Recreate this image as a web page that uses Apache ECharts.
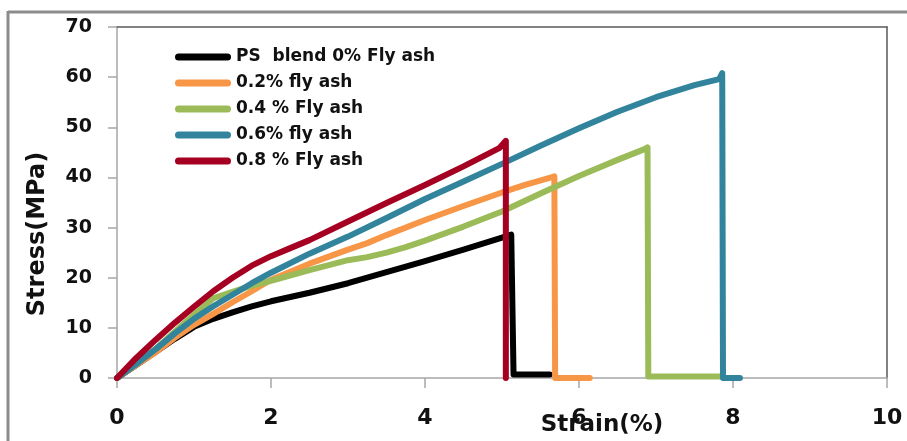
<!DOCTYPE html>
<html>
<head>
<meta charset="utf-8">
<style>
  html, body { margin: 0; padding: 0; background: #fff; }
  #chart { width: 907px; height: 441px; }
</style>
<script src="https://cdn.jsdelivr.net/npm/echarts@6/dist/echarts.min.js"></script>
</head>
<body>
<div id="chart"></div>
<script>
// Tensile stress–strain curves, [strain %, stress MPa]
const seriesNames = [
  'PS  blend 0% Fly ash',
  '0.2% fly ash',
  '0.4 % Fly ash',
  '0.6% fly ash',
  '0.8 % Fly ash'
];

const blend0 = [
  [0, 0], [0.25, 2.6], [0.5, 5.2], [0.75, 7.8], [1, 10.2], [1.25, 11.8], [1.5, 13.1],
  [1.75, 14.3], [2, 15.3], [2.5, 17.0], [3, 18.9], [3.5, 21.1], [4, 23.3], [4.5, 25.6],
  [5, 28.0], [5.12, 28.6], [5.15, 0.7], [5.62, 0.7]
];
const ash02 = [
  [0, 0], [0.25, 2.6], [0.5, 5.1], [0.75, 8.0], [1, 10.6], [1.25, 12.8], [1.5, 15.1],
  [1.75, 17.3], [2, 19.6], [2.5, 22.8], [3, 25.6], [3.25, 26.9], [3.5, 28.5], [4, 31.5],
  [4.5, 34.3], [5, 37.0], [5.3, 38.5], [5.64, 40.0], [5.68, 40.2], [5.69, 0], [6.14, 0]
];
const ash04 = [
  [0, 0], [0.25, 2.9], [0.5, 5.8], [0.75, 9.2], [1, 12.6], [1.25, 15.9], [1.5, 17.2],
  [1.75, 18.4], [2, 19.4], [2.5, 21.5], [3, 23.5], [3.25, 24.1], [3.5, 25.0], [3.75, 26.1],
  [4, 27.4], [4.5, 30.2], [5, 33.2], [5.5, 36.8], [6, 40.3], [6.5, 43.5], [6.86, 45.7],
  [6.89, 46.0], [6.9, 0.3], [7.83, 0.3]
];
const ash06 = [
  [0, 0], [0.25, 2.8], [0.5, 5.7], [0.75, 8.9], [1, 11.8], [1.25, 14.3], [1.5, 16.6],
  [1.75, 18.9], [2, 21.0], [2.5, 24.8], [3, 28.2], [3.5, 31.9], [4, 35.7], [4.5, 39.2],
  [5, 42.7], [5.5, 46.3], [6, 49.8], [6.5, 53.1], [7, 56.0], [7.5, 58.4], [7.82, 59.6],
  [7.86, 60.8], [7.87, 0], [8.09, 0]
];
const ash08 = [
  [0, 0], [0.25, 4.0], [0.5, 7.6], [0.75, 11.0], [1, 14.2], [1.25, 17.3], [1.5, 20.0],
  [1.75, 22.4], [2, 24.3], [2.25, 25.9], [2.5, 27.5], [3, 31.2], [3.5, 34.9], [4, 38.5],
  [4.5, 42.2], [4.97, 45.9], [5.05, 47.3], [5.05, 0]
];

const xTicks = { min: 0, max: 10, interval: 2 };
const yTicks = { min: 0, max: 70, interval: 10 };

const curves = [blend0, ash02, ash04, ash06, ash08];
const colors = ['#000000', '#F79646', '#9BBB59', '#31849B', '#A50021'];

const FONT = '"DejaVu Sans", sans-serif';
const chart = echarts.init(document.getElementById('chart'), null, { renderer: 'canvas' });

// Top and right edges of the plot box
const frameAxis = {
  show: true,
  axisLine: { show: true, onZero: false, lineStyle: { color: '#595959', width: 1.5 } },
  axisTick: { show: false },
  axisLabel: { show: false },
  splitLine: { show: false }
};

chart.setOption({
  animation: false,
  backgroundColor: '#ffffff',
  grid: { left: 117, top: 27, right: 20, bottom: 63, containLabel: false },
  legend: {
    orient: 'vertical',
    left: 170,
    top: 42,
    itemWidth: 56,
    itemHeight: 7,
    itemGap: 6,
    selectedMode: false,
    icon: 'path://M3.5,0 L52.5,0 A3.5,3.5 0 0 1 52.5,7 L3.5,7 A3.5,3.5 0 0 1 3.5,0 Z',
    textStyle: { fontFamily: FONT, fontWeight: 'bold', fontSize: 17, color: '#111', lineHeight: 20 },
    data: seriesNames
  },
  xAxis: [
    {
      type: 'value',
      min: xTicks.min, max: xTicks.max, interval: xTicks.interval,
      axisLine: { show: true, onZero: false, lineStyle: { color: '#A6A6A6', width: 1.5 } },
      axisTick: { show: true, inside: false, length: 10, lineStyle: { color: '#A6A6A6', width: 1.5 } },
      axisLabel: { margin: 29, fontFamily: FONT, fontWeight: 'bold', fontSize: 22, color: '#111' },
      splitLine: { show: false }
    },
    Object.assign({ type: 'value', position: 'top', min: xTicks.min, max: xTicks.max }, frameAxis)
  ],
  yAxis: [
    {
      type: 'value',
      min: yTicks.min, max: yTicks.max, interval: yTicks.interval,
      axisLine: { show: true, onZero: false, lineStyle: { color: '#A6A6A6', width: 1.5 } },
      axisTick: { show: true, inside: false, length: 9, lineStyle: { color: '#A6A6A6', width: 1.5 } },
      axisLabel: { margin: 25, fontFamily: FONT, fontWeight: 'bold', fontSize: 19, color: '#111' },
      splitLine: { show: false }
    },
    Object.assign({ type: 'value', position: 'right', min: yTicks.min, max: yTicks.max }, frameAxis)
  ],
  graphic: [
    { type: 'line', shape: { x1: 8, y1: 12, x2: 907, y2: 12 }, style: { stroke: '#8C8C8C', lineWidth: 3 }, z: 0 },
    { type: 'line', shape: { x1: 8, y1: 11, x2: 8, y2: 441 }, style: { stroke: '#8C8C8C', lineWidth: 3 }, z: 0 },
    {
      type: 'text', x: 38, y: 234, rotation: Math.PI / 2,
      style: { text: 'Stress(MPa)', font: 'bold 24px ' + FONT, fill: '#111', textAlign: 'center', textVerticalAlign: 'middle' },
      z: 10
    },
    {
      type: 'text', x: 602, y: 425,
      style: { text: 'Strain(%)', font: 'bold 23px ' + FONT, fill: '#111', textAlign: 'center', textVerticalAlign: 'middle' },
      z: 10
    }
  ],
  series: curves.map((data, i) => ({
    name: seriesNames[i],
    type: 'line',
    data: data,
    xAxisIndex: 0,
    yAxisIndex: 0,
    showSymbol: false,
    symbol: 'none',
    smooth: false,
    clip: true,
    color: colors[i],
    itemStyle: { color: colors[i] },
    lineStyle: { color: colors[i], width: 6, cap: 'round', join: 'round' },
    z: 2 + i
  }))
});
</script>
</body>
</html>
